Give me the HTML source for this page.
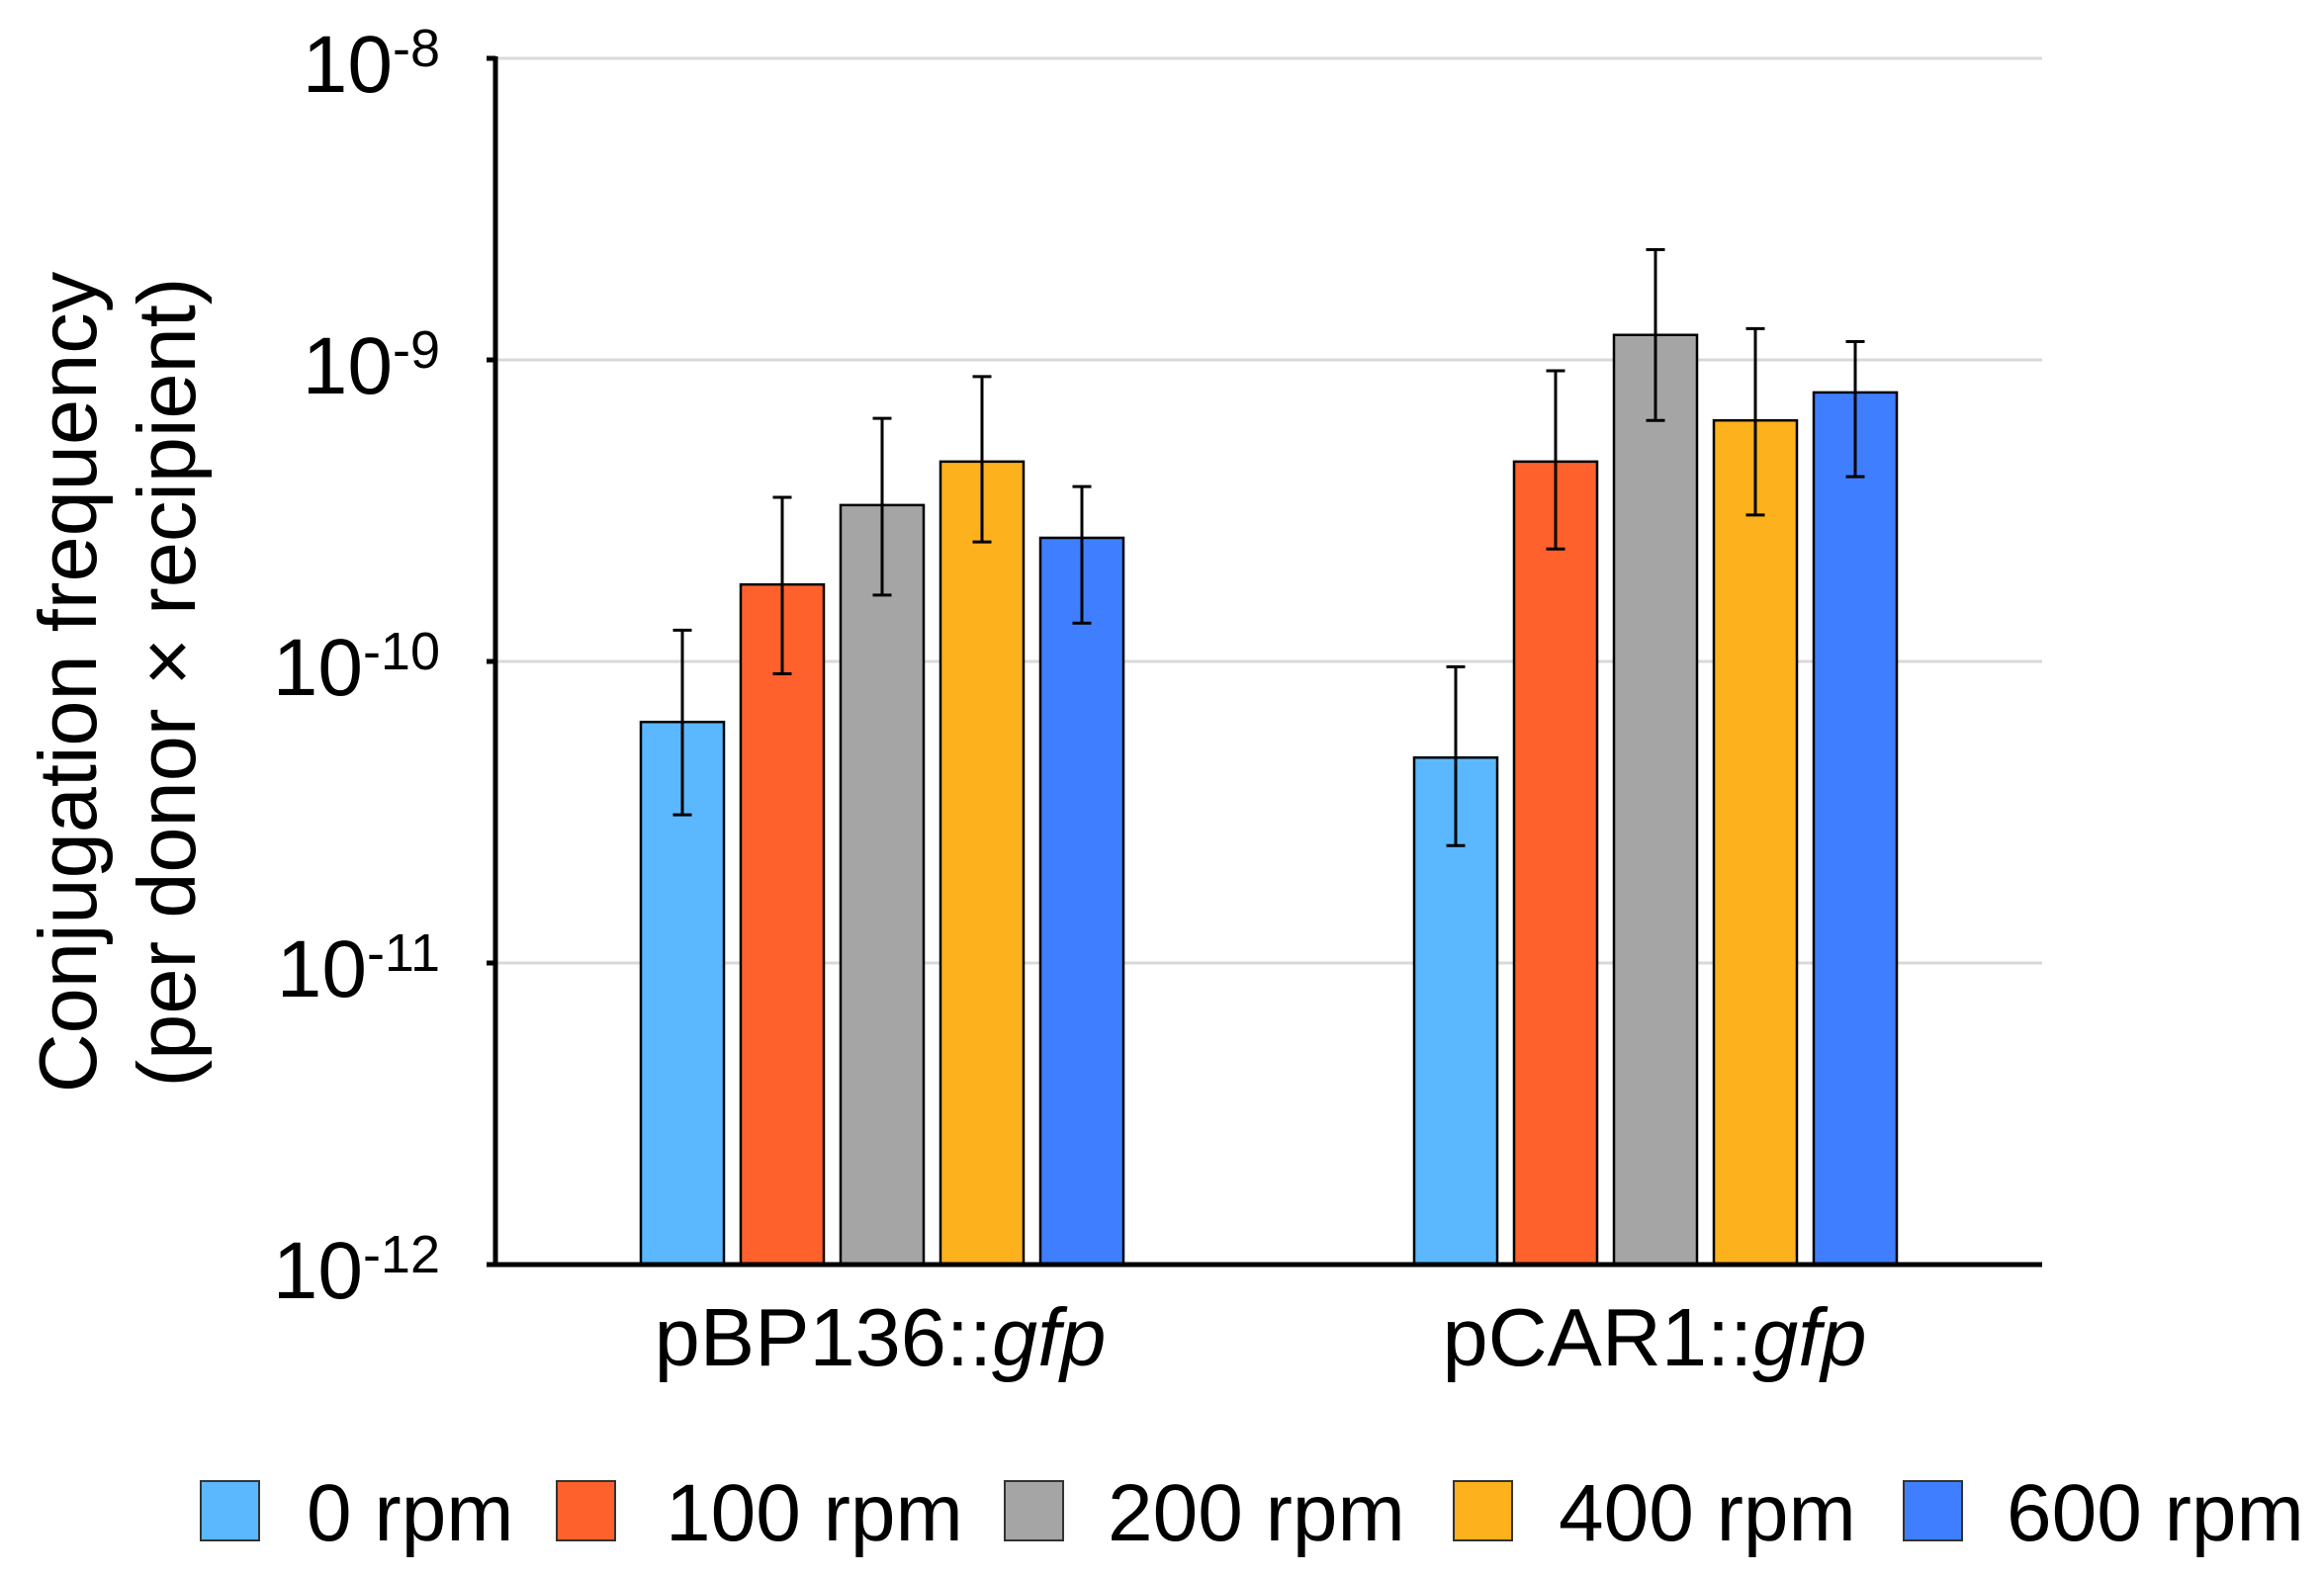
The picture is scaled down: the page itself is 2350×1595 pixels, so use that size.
<!DOCTYPE html>
<html><head><meta charset="utf-8"><style>
html,body{margin:0;padding:0;background:#fff;}
svg{display:block;font-family:"Liberation Sans",Arial,sans-serif;}
</style></head><body>
<svg id="chart" width="2350" height="1595" viewBox="0 0 2350 1595" xmlns="http://www.w3.org/2000/svg">
<g id="grid"></g>
<g id="bars"></g>
<g id="axes"></g>
<g id="yticks"></g>
<g transform="translate(0,690) rotate(-90)" font-size="83" text-anchor="middle" fill="#000">
<text x="0" y="97">Conjugation frequency</text>
<text x="0" y="197">(per donor × recipient)</text>
</g>
<g font-size="83" text-anchor="middle">
<text x="890" y="1381">pBP136::<tspan font-style="italic">gfp</tspan></text>
<text x="1673" y="1381">pCAR1::<tspan font-style="italic">gfp</tspan></text>
</g>
<g id="legend" font-size="82"></g>
</svg>
<script>
const categories = ["pBP136::gfp", "pCAR1::gfp"];
const seriesNames = ["0 rpm", "100 rpm", "200 rpm", "400 rpm", "600 rpm"];
const values0 = [6.3e-11, 4.8e-11];
const values100 = [1.8e-10, 4.6e-10];
const values200 = [3.3e-10, 1.21e-9];
const values400 = [4.6e-10, 6.3e-10];
const values600 = [2.57e-10, 7.8e-10];
const upper0 = [1.27e-10, 9.6e-11];
const upper100 = [3.5e-10, 9.2e-10];
const upper200 = [6.4e-10, 2.32e-9];
const upper400 = [8.8e-10, 1.27e-9];
const upper600 = [3.8e-10, 1.15e-9];
const lower0 = [3.1e-11, 2.45e-11];
const lower100 = [9.1e-11, 2.36e-10];
const lower200 = [1.66e-10, 6.3e-10];
const lower400 = [2.49e-10, 3.06e-10];
const lower600 = [1.34e-10, 4.1e-10];
const tickExponents = [-8, -9, -10, -11, -12];

const seriesValues = [values0, values100, values200, values400, values600];
const seriesUpper = [upper0, upper100, upper200, upper400, upper600];
const seriesLower = [lower0, lower100, lower200, lower400, lower600];
const colors = ["#5BB8FF", "#FF612D", "#A5A5A5", "#FDB11C", "#3F7FFF"];

const NS = "http://www.w3.org/2000/svg";
const plotL = 501, plotR = 2065, yTop = 59, yBot = 1279;
const logMax = -8, logMin = -12;
function yScale(v){ return yTop + (logMax - Math.log10(v)) / (logMax - logMin) * (yBot - yTop); }
const band = (plotR - plotL) / categories.length;
function xCenter(i){ return plotL + band * (i + 0.5); }
const barW = 84, pitch = 101;
function mk(tag, attrs, parent){ const e = document.createElementNS(NS, tag); for (const k in attrs) e.setAttribute(k, attrs[k]); parent.appendChild(e); return e; }

const grid = document.getElementById('grid');
const yt = document.getElementById('yticks');
tickExponents.forEach(ex => {
  const y = yScale(Math.pow(10, ex));
  const l = mk('line', {x1: plotL, x2: plotR, y1: y, y2: y, stroke: '#d9d9d9', 'stroke-width': 3}, grid);
  
  
  const t = mk('text', {x: 445, y: y + 34, 'text-anchor': 'end', 'font-size': 82}, yt);
  
  
  t.appendChild(document.createTextNode('10'));
  const s = mk('tspan', {'font-size': 54, dy: -26}, t);
  s.textContent = String(ex);
  const tk = mk('line', {x1: 492, x2: plotL, y1: y, y2: y, stroke: '#000', 'stroke-width': 5}, yt);
  
  
});

const bars = document.getElementById('bars');
categories.forEach((c, ci) => {
  seriesValues.forEach((vals, si) => {
    const cx = xCenter(ci) + (si - 2) * pitch;
    const y = yScale(vals[ci]);
    const r = mk('rect', {x: cx - barW/2, y: y, width: barW, height: yBot - y, fill: colors[si], stroke: '#000', 'stroke-width': 2.5}, bars);
    
    
    const yu = yScale(seriesUpper[si][ci]), yl = yScale(seriesLower[si][ci]);
    const eb = mk('path', {d: `M${cx},${yu}V${yl}M${cx-9.5},${yu}H${cx+9.5}M${cx-9.5},${yl}H${cx+9.5}`, stroke: '#000', 'stroke-width': 3, fill: 'none'}, bars);
    
    
  });
});

const axes = document.getElementById('axes');
const ya = mk('line', {x1: plotL, x2: plotL, y1: yTop - 2, y2: yBot + 2, stroke: '#000', 'stroke-width': 5}, axes);


const xa = mk('line', {x1: 492, x2: plotR, y1: yBot, y2: yBot, stroke: '#000', 'stroke-width': 5}, axes);



const legend = document.getElementById('legend');
const boxX = [203, 563, 1016, 1470, 1925];
const textX = [310, 673, 1120, 1576, 2029];
seriesNames.forEach((n, i) => {
  const b = mk('rect', {x: boxX[i], y: 1498, width: 59, height: 60, fill: colors[i], stroke: '#333', 'stroke-width': 2}, legend);
  
  
  const t = mk('text', {x: textX[i], y: 1558}, legend);
  
  
  t.textContent = n;
});
</script>
</body></html>
